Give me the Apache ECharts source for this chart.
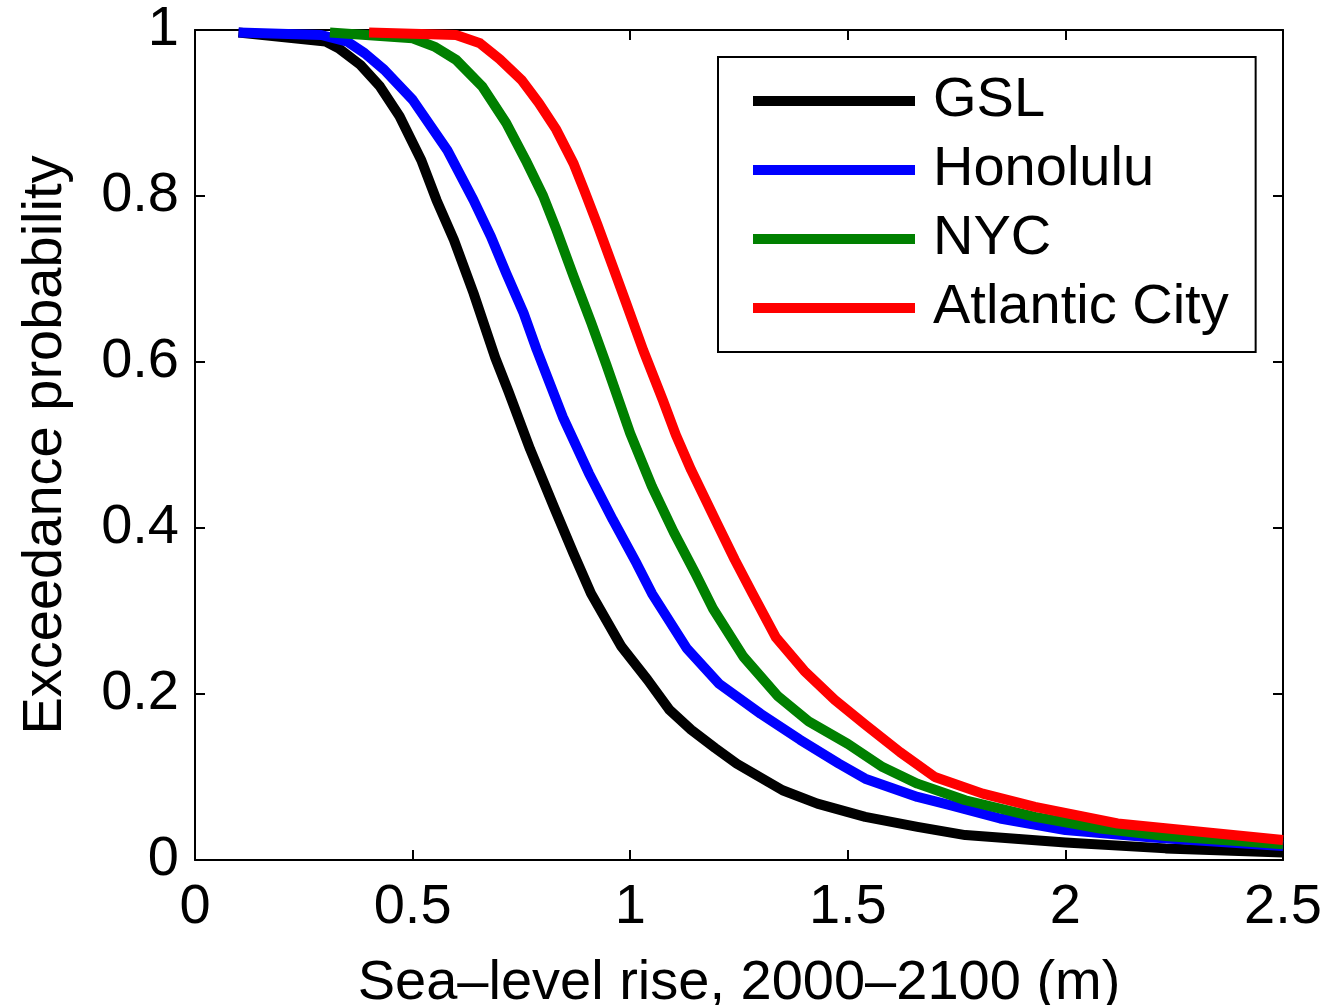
<!DOCTYPE html>
<html>
<head>
<meta charset="utf-8">
<title>Exceedance probability</title>
<script src="https://cdn.jsdelivr.net/npm/echarts@6/dist/echarts.min.js"></script>
<style>
  html, body { margin: 0; padding: 0; background: #fff; }
  #chart { width: 1325px; height: 1005px; }
</style>
</head>
<body>
<div id="chart"></div>
<script>
// series names and colours
const seriesNames = ['GSL', 'Honolulu', 'NYC', 'Atlantic City'];
const seriesColors = ['#000000', '#0000ff', '#008000', '#ff0000'];

// [sea-level rise (m), exceedance probability]
const gslData = [
  [0.10, 0.997], [0.30, 0.986], [0.33, 0.978], [0.38, 0.958], [0.425, 0.932],
  [0.47, 0.896], [0.52, 0.843], [0.555, 0.795], [0.595, 0.747], [0.64, 0.683],
  [0.69, 0.605], [0.72, 0.565], [0.77, 0.495], [0.825, 0.425], [0.87, 0.369],
  [0.91, 0.321], [0.98, 0.257], [1.04, 0.217], [1.09, 0.181], [1.14, 0.157],
  [1.195, 0.135], [1.245, 0.116], [1.35, 0.084], [1.43, 0.068], [1.54, 0.052],
  [1.66, 0.040], [1.77, 0.030], [2.00, 0.021], [2.23, 0.014], [2.50, 0.009]
];
const honoluluData = [
  [0.10, 0.997], [0.29, 0.994], [0.35, 0.986], [0.39, 0.972], [0.435, 0.952],
  [0.50, 0.916], [0.58, 0.855], [0.64, 0.795], [0.68, 0.751], [0.715, 0.707],
  [0.755, 0.659], [0.785, 0.615], [0.845, 0.534], [0.905, 0.466], [0.96, 0.410],
  [1.015, 0.357], [1.05, 0.321], [1.13, 0.255], [1.205, 0.212], [1.30, 0.176],
  [1.39, 0.145], [1.48, 0.116], [1.54, 0.098], [1.66, 0.076], [1.735, 0.066],
  [1.85, 0.050], [2.00, 0.036], [2.20, 0.027], [2.50, 0.017]
];
const nycData = [
  [0.31, 0.997], [0.50, 0.990], [0.55, 0.980], [0.60, 0.964], [0.66, 0.932],
  [0.715, 0.888], [0.76, 0.843], [0.80, 0.800], [0.83, 0.760], [0.87, 0.703],
  [0.91, 0.648], [0.945, 0.597], [1.00, 0.514], [1.05, 0.450], [1.10, 0.395],
  [1.15, 0.345], [1.19, 0.303], [1.26, 0.245], [1.34, 0.197], [1.41, 0.167],
  [1.50, 0.140], [1.58, 0.112], [1.66, 0.092], [1.77, 0.072], [1.93, 0.052],
  [2.08, 0.038], [2.23, 0.029], [2.50, 0.019]
];
const atlanticCityData = [
  [0.40, 0.997], [0.60, 0.994], [0.655, 0.984], [0.70, 0.965], [0.75, 0.940],
  [0.79, 0.912], [0.83, 0.880], [0.87, 0.839], [0.895, 0.806], [0.925, 0.765],
  [0.96, 0.715], [0.99, 0.672], [1.03, 0.614], [1.075, 0.554], [1.105, 0.512],
  [1.14, 0.470], [1.20, 0.405], [1.24, 0.362], [1.28, 0.322], [1.335, 0.268],
  [1.40, 0.228], [1.47, 0.193], [1.54, 0.163], [1.62, 0.130], [1.70, 0.100],
  [1.81, 0.080], [1.93, 0.064], [2.12, 0.044], [2.31, 0.034], [2.50, 0.024]
];
const allData = [gslData, honoluluData, nycData, atlanticCityData];

// axis ranges
const xMin = 0, xMax = 2.5, xStep = 0.5;
const yMin = 0, yMax = 1, yStep = 0.2;

const fontFamily = '"Liberation Sans", Arial, Helvetica, sans-serif';
const fontSize = 56;

const chart = echarts.init(document.getElementById('chart'));

// shared style for the frame axes (MATLAB box with inward ticks)
const frameLine = { show: true, onZero: false, lineStyle: { color: '#000', width: 2 } };
const frameTick = { show: true, inside: true, length: 10, lineStyle: { color: '#000', width: 2 } };

const option = {
  animation: false,
  backgroundColor: '#fff',
  grid: {
    left: 195, right: 42, top: 30, bottom: 145,
    containLabel: false,
    outerBoundsMode: 'none'
  },
  legend: {
    orient: 'vertical',
    left: 718,
    top: 57,
    data: seriesNames,
    icon: 'rect',
    itemWidth: 162,
    itemHeight: 10,
    itemGap: 9,
    padding: [14, 27, 14, 35],
    borderColor: '#000',
    borderWidth: 2,
    backgroundColor: '#fff',
    textStyle: {
      fontFamily: fontFamily,
      fontSize: fontSize,
      color: '#000',
      lineHeight: 60,
      padding: [0, 0, 0, 13]
    }
  },
  xAxis: [
    {
      type: 'value',
      min: xMin, max: xMax, interval: xStep,
      name: 'Sea\u2013level rise, 2000\u20132100 (m)',
      nameLocation: 'middle',
      nameGap: 96,
      nameTextStyle: { fontFamily: fontFamily, fontSize: fontSize, color: '#000' },
      axisLine: frameLine,
      axisTick: frameTick,
      axisLabel: { fontFamily: fontFamily, fontSize: fontSize, color: '#000', margin: 20 },
      splitLine: { show: false }
    },
    {
      type: 'value',
      position: 'top',
      min: xMin, max: xMax, interval: xStep,
      axisLine: frameLine,
      axisTick: frameTick,
      axisLabel: { show: false },
      splitLine: { show: false }
    }
  ],
  yAxis: [
    {
      type: 'value',
      min: yMin, max: yMax, interval: yStep,
      name: 'Exceedance probability',
      nameLocation: 'middle',
      nameGap: 121,
      nameTextStyle: { fontFamily: fontFamily, fontSize: fontSize, color: '#000' },
      axisLine: frameLine,
      axisTick: frameTick,
      axisLabel: { fontFamily: fontFamily, fontSize: fontSize, color: '#000', margin: 16 },
      splitLine: { show: false }
    },
    {
      type: 'value',
      position: 'right',
      min: yMin, max: yMax, interval: yStep,
      axisLine: frameLine,
      axisTick: frameTick,
      axisLabel: { show: false },
      splitLine: { show: false }
    }
  ],
  series: seriesNames.map(function (name, i) {
    return {
      name: name,
      type: 'line',
      xAxisIndex: 0,
      yAxisIndex: 0,
      data: allData[i],
      showSymbol: false,
      symbol: 'none',
      color: seriesColors[i],
      lineStyle: { color: seriesColors[i], width: 10, join: 'round' }
    };
  })
};

chart.setOption(option);
</script>
</body>
</html>
